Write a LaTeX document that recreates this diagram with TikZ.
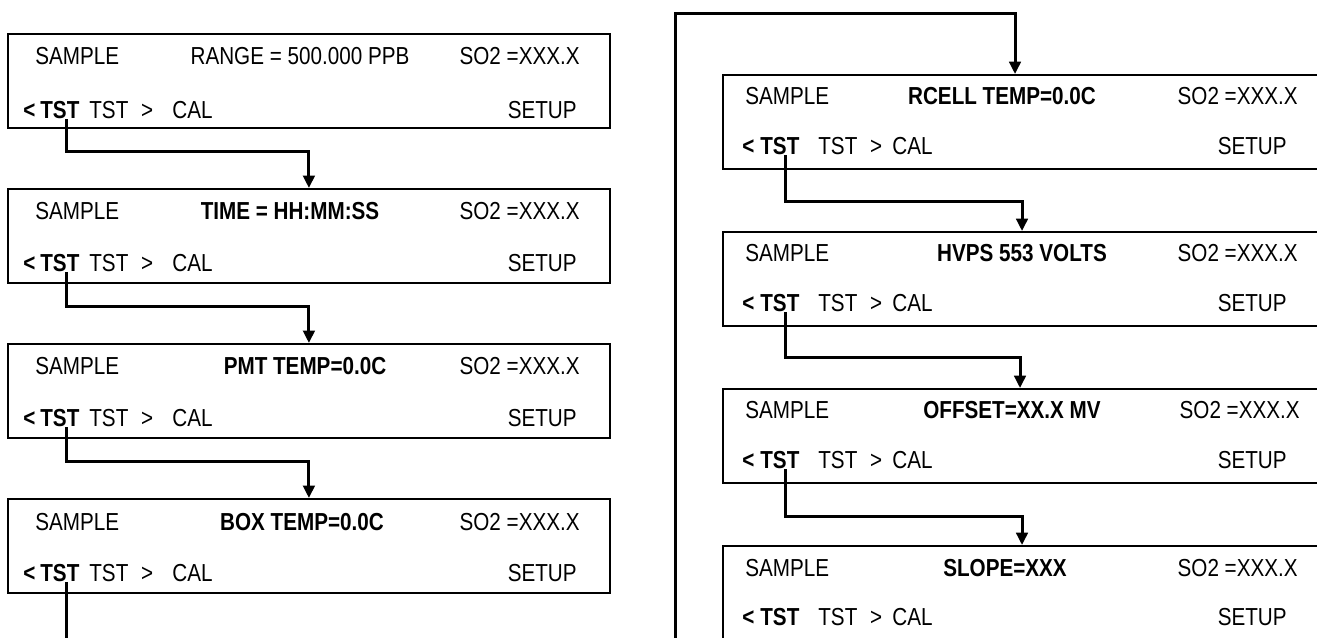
\documentclass[tikz,border=0pt]{standalone}
\usepackage{fontspec}
\setmainfont[FakeStretch=0.84]{Liberation Sans}
\usepackage{tikz}
\usetikzlibrary{arrows.meta,calc}

\begin{document}
\begin{tikzpicture}[x=0.02cm,y=-0.02cm,
    scr/.style={draw,line width=1.1pt,anchor=north west,inner sep=0pt,minimum width=12.04cm,minimum height=1.88cm},
    scrr/.style={scr,minimum width=13cm},
    txt/.style={inner sep=0pt,text height=10pt,text depth=0pt,font=\fontsize{14}{16}\selectfont},
    lft/.style={txt,anchor=west},
    rgt/.style={txt,anchor=east},
    mid/.style={txt,anchor=center,font=\fontsize{14}{16}\selectfont\bfseries},
    flow/.style={line width=1.7pt,-{Triangle[length=7pt,width=6.5pt]}},
    feed/.style={line width=1.7pt}]

\useasboundingbox (0,0) rectangle (1317,637);
\clip (0,0) rectangle (1317,637);

% left column
\node[scr] (b1) at (7,33) {};
\node[lft] (s1) at (35,56) {SAMPLE};
\node[txt] (m1) at (300,56) {RANGE = 500.000 PPB};
\node[rgt] (v1) at (580,56) {SO2 =XXX.X};
\node[lft] (l1) at (23,110) {\textbf{<}};
\node[lft] (t1) at (40,110) {\textbf{TST}};
\node[lft] (n1) at (89,110) {TST\hspace{4pt} >};
\node[lft] (c1) at (172,110) {CAL};
\node[rgt] (u1) at (577,110) {SETUP};

\node[scr] (b2) at (7,188) {};
\node[lft] (s2) at (35,211) {SAMPLE};
\node[mid] (m2) at (290,211) {TIME = HH:MM:SS};
\node[rgt] (v2) at (580,211) {SO2 =XXX.X};
\node[lft] (l2) at (23,263) {\textbf{<}};
\node[lft] (t2) at (40,263) {\textbf{TST}};
\node[lft] (n2) at (89,263) {TST\hspace{4pt} >};
\node[lft] (c2) at (172,263) {CAL};
\node[rgt] (u2) at (577,263) {SETUP};

\node[scr] (b3) at (7,343) {};
\node[lft] (s3) at (35,366) {SAMPLE};
\node[mid] (m3) at (305,366) {PMT TEMP=0.0C};
\node[rgt] (v3) at (580,366) {SO2 =XXX.X};
\node[lft] (l3) at (23,418) {\textbf{<}};
\node[lft] (t3) at (40,418) {\textbf{TST}};
\node[lft] (n3) at (89,418) {TST\hspace{4pt} >};
\node[lft] (c3) at (172,418) {CAL};
\node[rgt] (u3) at (577,418) {SETUP};

\node[scr] (b4) at (7,498) {};
\node[lft] (s4) at (35,522) {SAMPLE};
\node[mid] (m4) at (302,522) {BOX TEMP=0.0C};
\node[rgt] (v4) at (580,522) {SO2 =XXX.X};
\node[lft] (l4) at (23,573) {\textbf{<}};
\node[lft] (t4) at (40,573) {\textbf{TST}};
\node[lft] (n4) at (89,573) {TST\hspace{4pt} >};
\node[lft] (c4) at (172,573) {CAL};
\node[rgt] (u4) at (577,573) {SETUP};

\draw[flow] ($(t1.south)+(7,0)$) |- ($(b2.north)+(0,-37)$) -- (b2.north);
\draw[flow] ($(t2.south)+(7,0)$) |- ($(b3.north)+(0,-37)$) -- (b3.north);
\draw[flow] ($(t3.south)+(7,0)$) |- ($(b4.north)+(0,-37)$) -- (b4.north);
\coordinate (lend) at (0,645);
\draw[feed] ($(t4.south)+(7,0)$) -- ($(t4.south |- lend)+(7,0)$);

% right column
\node[scrr] (b5) at (722,74) {};
\node[lft] (s5) at (745,96) {SAMPLE};
\node[mid] (m5) at (1002,96) {RCELL TEMP=0.0C};
\node[rgt] (v5) at (1298,96) {SO2 =XXX.X};
\node[lft] (l5) at (742,146) {\textbf{<}};
\node[lft] (t5) at (760,146) {\textbf{TST}};
\node[lft] (n5) at (818,146) {TST\hspace{4pt} >};
\node[lft] (c5) at (892,146) {CAL};
\node[rgt] (u5) at (1287,146) {SETUP};

\node[scrr] (b6) at (722,231) {};
\node[lft] (s6) at (745,253) {SAMPLE};
\node[mid] (m6) at (1022,253) {HVPS 553 VOLTS};
\node[rgt] (v6) at (1298,253) {SO2 =XXX.X};
\node[lft] (l6) at (742,303) {\textbf{<}};
\node[lft] (t6) at (760,303) {\textbf{TST}};
\node[lft] (n6) at (818,303) {TST\hspace{4pt} >};
\node[lft] (c6) at (892,303) {CAL};
\node[rgt] (u6) at (1287,303) {SETUP};

\node[scrr] (b7) at (722,388) {};
\node[lft] (s7) at (745,410) {SAMPLE};
\node[mid] (m7) at (1012,410) {OFFSET=XX.X MV};
\node[rgt] (v7) at (1300,410) {SO2 =XXX.X};
\node[lft] (l7) at (742,460) {\textbf{<}};
\node[lft] (t7) at (760,460) {\textbf{TST}};
\node[lft] (n7) at (818,460) {TST\hspace{4pt} >};
\node[lft] (c7) at (892,460) {CAL};
\node[rgt] (u7) at (1287,460) {SETUP};

\node[scrr,minimum height=2.2cm] (b8) at (722,545) {};
\node[lft] (s8) at (745,568) {SAMPLE};
\node[mid] (m8) at (1005,568) {SLOPE=XXX};
\node[rgt] (v8) at (1298,568) {SO2 =XXX.X};
\node[lft] (l8) at (742,617) {\textbf{<}};
\node[lft] (t8) at (760,617) {\textbf{TST}};
\node[lft] (n8) at (818,617) {TST\hspace{4pt} >};
\node[lft] (c8) at (892,617) {CAL};
\node[rgt] (u8) at (1287,617) {SETUP};

\coordinate (rbot) at (675,645);
\coordinate (rtop) at (675,13);
\draw[flow] (rbot) -- (rtop) -| ($(b5.north west)+(293,0)$);
\draw[flow] ($(t5.south)+(6,0)$) |- ($(b6.north west)+(300,-30)$) -- ($(b6.north west)+(300,0)$);
\draw[flow] ($(t6.south)+(6,0)$) |- ($(b7.north west)+(298,-31)$) -- ($(b7.north west)+(298,0)$);
\draw[flow] ($(t7.south)+(6,0)$) |- ($(b8.north west)+(300,-29)$) -- ($(b8.north west)+(300,0)$);

\end{tikzpicture}
\end{document}
